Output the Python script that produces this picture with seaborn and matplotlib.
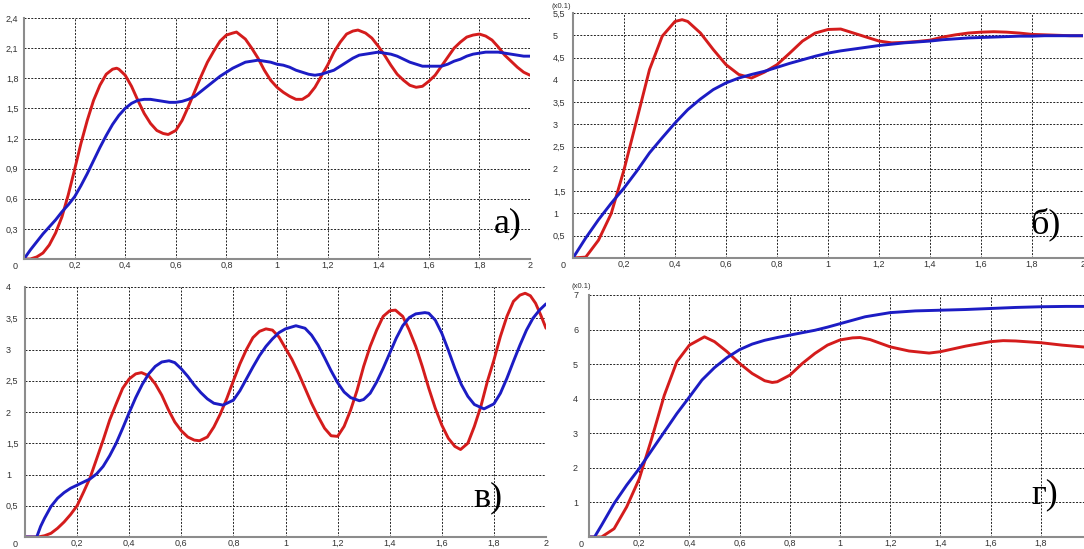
import matplotlib
matplotlib.use("Agg")
import matplotlib.pyplot as plt
import seaborn as sns
from matplotlib.ticker import FixedLocator, FuncFormatter

# ---- panel а) ----
a_red_x = [0, 0.025, 0.05, 0.075, 0.1, 0.125, 0.15, 0.175, 0.2, 0.225, 0.25, 0.275, 0.3, 0.325, 0.35,
           0.366, 0.375, 0.4, 0.425, 0.45, 0.475, 0.5, 0.525, 0.55, 0.57, 0.6, 0.625, 0.65, 0.675, 0.7,
           0.725, 0.75, 0.775, 0.8, 0.825, 0.84, 0.875, 0.9, 0.925, 0.95, 0.975, 1.0, 1.025, 1.05, 1.075,
           1.1, 1.125, 1.15, 1.175, 1.2, 1.225, 1.25, 1.275, 1.3, 1.32, 1.35, 1.375, 1.4, 1.425, 1.45,
           1.475, 1.5, 1.525, 1.55, 1.575, 1.6, 1.625, 1.65, 1.675, 1.7, 1.725, 1.75, 1.775, 1.8, 1.825,
           1.85, 1.875, 1.9, 1.925, 1.95, 1.975, 2.0]
a_red_y = [0, 0, 0.02, 0.06, 0.14, 0.26, 0.42, 0.64, 0.89, 1.15, 1.38, 1.58, 1.73, 1.84, 1.89,
           1.9, 1.89, 1.83, 1.72, 1.58, 1.45, 1.35, 1.28, 1.25, 1.24, 1.28, 1.38, 1.52, 1.67, 1.82,
           1.96, 2.07, 2.17, 2.23, 2.25, 2.26, 2.19, 2.1, 2.0, 1.88, 1.78, 1.71, 1.66, 1.62, 1.59,
           1.59, 1.63, 1.71, 1.82, 1.93, 2.06, 2.16, 2.24, 2.27, 2.28, 2.25, 2.2, 2.12, 2.03, 1.93,
           1.84, 1.78, 1.73, 1.71, 1.72, 1.77, 1.83, 1.92, 2.01, 2.1, 2.16, 2.21, 2.23, 2.24, 2.22,
           2.18, 2.11, 2.03, 1.97, 1.91, 1.86, 1.83]
a_blue_x = [0, 0.025, 0.05, 0.075, 0.1, 0.125, 0.15, 0.175, 0.2, 0.225, 0.25, 0.275, 0.3, 0.325, 0.35,
            0.375, 0.4, 0.425, 0.45, 0.475, 0.5, 0.525, 0.55, 0.575, 0.6, 0.625, 0.65, 0.675, 0.7, 0.725,
            0.75, 0.775, 0.8, 0.825, 0.85, 0.875, 0.9, 0.925, 0.95, 0.975, 1.0, 1.025, 1.05, 1.075, 1.1,
            1.125, 1.15, 1.175, 1.2, 1.225, 1.25, 1.275, 1.3, 1.325, 1.35, 1.375, 1.4, 1.425, 1.45, 1.475,
            1.5, 1.525, 1.55, 1.575, 1.6, 1.625, 1.65, 1.675, 1.7, 1.725, 1.75, 1.775, 1.8, 1.825, 1.85,
            1.875, 1.9, 1.925, 1.95, 1.975, 2.0]
a_blue_y = [0, 0.09, 0.17, 0.25, 0.32, 0.39, 0.47, 0.54, 0.62, 0.73, 0.85, 0.98, 1.11, 1.23, 1.34,
            1.43, 1.5, 1.55, 1.58, 1.59, 1.59, 1.58, 1.57, 1.56, 1.56, 1.57, 1.59, 1.62, 1.67, 1.72,
            1.77, 1.82, 1.86, 1.9, 1.93, 1.96, 1.97, 1.98, 1.97, 1.96, 1.94, 1.93, 1.91, 1.88, 1.86,
            1.84, 1.83, 1.84, 1.86, 1.88, 1.92, 1.96, 2.0, 2.03, 2.04, 2.05, 2.06, 2.05, 2.04, 2.02,
            1.99, 1.96, 1.94, 1.92, 1.92, 1.92, 1.92, 1.94, 1.97, 1.99, 2.02, 2.04, 2.05, 2.06, 2.06,
            2.06, 2.05, 2.04, 2.03, 2.02, 2.02]

# ---- panel б) ----
b_red_x = [0, 0.05, 0.1, 0.15, 0.2, 0.25, 0.3, 0.35, 0.4, 0.428, 0.45, 0.5, 0.55, 0.6, 0.65, 0.7, 0.75,
           0.8, 0.85, 0.9, 0.95, 1.0, 1.05, 1.1, 1.15, 1.2, 1.25, 1.3, 1.35, 1.4, 1.45, 1.5, 1.55, 1.6,
           1.65, 1.7, 1.75, 1.8, 1.85, 1.9, 1.95, 2.0]
b_red_y = [0, 0.02, 0.4, 1.0, 1.98, 3.1, 4.23, 4.98, 5.31, 5.35, 5.31, 5.05, 4.68, 4.34, 4.12, 4.04, 4.17,
           4.34, 4.6, 4.87, 5.05, 5.13, 5.14, 5.05, 4.96, 4.87, 4.83, 4.84, 4.86, 4.89, 4.96, 5.01, 5.05, 5.07,
           5.08, 5.07, 5.05, 5.02, 5.01, 5.0, 4.99, 4.99]
b_blue_x = [0, 0.05, 0.1, 0.15, 0.2, 0.25, 0.3, 0.35, 0.4, 0.45, 0.5, 0.55, 0.6, 0.65, 0.7, 0.75, 0.8,
            0.85, 0.9, 0.95, 1.0, 1.05, 1.1, 1.15, 1.2, 1.25, 1.3, 1.35, 1.4, 1.45, 1.5, 1.55, 1.6, 1.65,
            1.7, 1.75, 1.8, 1.85, 1.9, 1.95, 2.0]
b_blue_y = [0, 0.45, 0.86, 1.23, 1.57, 1.95, 2.36, 2.7, 3.03, 3.33, 3.57, 3.78, 3.93, 4.04, 4.12, 4.19, 4.28,
            4.37, 4.45, 4.53, 4.6, 4.65, 4.69, 4.73, 4.77, 4.8, 4.83, 4.85, 4.87, 4.9, 4.92, 4.94, 4.95, 4.96,
            4.97, 4.98, 4.98, 4.99, 4.99, 4.99, 4.99]

# ---- panel в) ----
c_red_x = [0, 0.025, 0.05, 0.075, 0.1, 0.125, 0.15, 0.175, 0.2, 0.225, 0.25, 0.275, 0.3, 0.325, 0.35,
           0.375, 0.4, 0.425, 0.447, 0.475, 0.5, 0.525, 0.55, 0.575, 0.6, 0.625, 0.65, 0.67, 0.7, 0.725,
           0.75, 0.775, 0.8, 0.825, 0.85, 0.875, 0.9, 0.925, 0.95, 0.975, 1.0, 1.025, 1.05, 1.075, 1.1,
           1.125, 1.15, 1.175, 1.2, 1.225, 1.25, 1.275, 1.3, 1.325, 1.35, 1.375, 1.4, 1.422, 1.45, 1.475,
           1.5, 1.525, 1.55, 1.575, 1.6, 1.625, 1.65, 1.672, 1.7, 1.725, 1.75, 1.775, 1.8, 1.825, 1.85,
           1.875, 1.9, 1.92, 1.94, 1.96, 1.98, 2.0]
c_red_y = [0, 0, 0, 0.02, 0.06, 0.14, 0.24, 0.36, 0.5, 0.72, 0.95, 1.25, 1.55, 1.87, 2.13,
           2.38, 2.53, 2.61, 2.63, 2.58, 2.45, 2.27, 2.04, 1.84, 1.7, 1.6, 1.55, 1.54, 1.6, 1.76,
           1.97, 2.22, 2.5, 2.77, 3.0, 3.19, 3.29, 3.33, 3.31, 3.2, 3.02, 2.84, 2.62, 2.38, 2.14,
           1.93, 1.74, 1.62, 1.61, 1.77, 2.03, 2.35, 2.73, 3.05, 3.31, 3.53, 3.62, 3.63, 3.53, 3.31,
           3.05, 2.73, 2.38, 2.06, 1.79, 1.58, 1.45, 1.4, 1.5, 1.77, 2.09, 2.49, 2.83, 3.21, 3.53,
           3.77, 3.87, 3.9, 3.86, 3.74, 3.55, 3.34]
c_blue_x = [0, 0.025, 0.045, 0.06, 0.075, 0.1, 0.125, 0.15, 0.175, 0.2, 0.225, 0.25, 0.275, 0.3, 0.325,
            0.35, 0.375, 0.4, 0.425, 0.45, 0.475, 0.5, 0.525, 0.553, 0.575, 0.6, 0.625, 0.65, 0.675, 0.7,
            0.725, 0.76, 0.8, 0.825, 0.85, 0.875, 0.9, 0.925, 0.95, 0.975, 1.0, 1.04, 1.075, 1.1, 1.125,
            1.15, 1.175, 1.2, 1.225, 1.25, 1.284, 1.3, 1.325, 1.35, 1.375, 1.4, 1.425, 1.45, 1.475, 1.5,
            1.535, 1.55, 1.575, 1.6, 1.625, 1.65, 1.675, 1.7, 1.725, 1.762, 1.8, 1.825, 1.85, 1.875, 1.9,
            1.925, 1.95, 1.975, 2.0]
c_blue_y = [0, 0, 0, 0.17, 0.3, 0.49, 0.62, 0.71, 0.78, 0.83, 0.88, 0.93, 1.01, 1.13, 1.3,
            1.5, 1.74, 1.99, 2.23, 2.44, 2.61, 2.73, 2.8, 2.82, 2.79, 2.69, 2.57, 2.43, 2.31, 2.21,
            2.14, 2.11, 2.19, 2.34, 2.53, 2.72, 2.9, 3.05, 3.17, 3.27, 3.33, 3.38, 3.34, 3.23, 3.07,
            2.87, 2.66, 2.47, 2.32, 2.23, 2.18, 2.2, 2.3, 2.48, 2.7, 2.94, 3.18, 3.38, 3.51, 3.57,
            3.59, 3.58, 3.47, 3.26, 2.99, 2.7, 2.44, 2.25, 2.12, 2.05, 2.13, 2.3, 2.54, 2.81, 3.07,
            3.31, 3.5, 3.63, 3.73]

# ---- panel г) ----
d_red_x = [0, 0.05, 0.1, 0.15, 0.2, 0.25, 0.3, 0.35, 0.4, 0.46, 0.5, 0.55, 0.6, 0.65, 0.7, 0.73, 0.75,
           0.8, 0.85, 0.9, 0.95, 1.0, 1.05, 1.08, 1.12, 1.2, 1.275, 1.355, 1.4, 1.5, 1.6, 1.65, 1.7, 1.8,
           1.885, 1.965, 2.0]
d_red_y = [0, 0, 0.24, 0.87, 1.68, 2.85, 4.1, 5.07, 5.55, 5.79, 5.65, 5.36, 5.02, 4.73, 4.52, 4.47, 4.49,
           4.68, 5.02, 5.31, 5.55, 5.7, 5.76, 5.77, 5.71, 5.5, 5.38, 5.32, 5.36, 5.52, 5.65, 5.68, 5.67, 5.62,
           5.55, 5.5, 5.48]
d_blue_x = [0, 0.022, 0.05, 0.1, 0.15, 0.2, 0.25, 0.3, 0.35, 0.4, 0.45, 0.5, 0.55, 0.6, 0.65, 0.7, 0.75,
            0.8, 0.85, 0.9, 0.95, 1.0, 1.05, 1.1, 1.2, 1.3, 1.4, 1.5, 1.6, 1.7, 1.8, 1.9, 2.0]
d_blue_y = [0, 0, 0.34, 0.97, 1.5, 1.98, 2.51, 3.04, 3.57, 4.05, 4.54, 4.9, 5.19, 5.42, 5.58, 5.69, 5.77,
            5.84, 5.91, 5.98, 6.07, 6.17, 6.27, 6.37, 6.49, 6.54, 6.56, 6.58, 6.61, 6.64, 6.66, 6.67, 6.67]

x_ticks = [0.2, 0.4, 0.6, 0.8, 1.0, 1.2, 1.4, 1.6, 1.8, 2.0]
a_yticks = [0.3, 0.6, 0.9, 1.2, 1.5, 1.8, 2.1, 2.4]
b_yticks = [0.5, 1, 1.5, 2, 2.5, 3, 3.5, 4, 4.5, 5, 5.5]
c_yticks = [0.5, 1, 1.5, 2, 2.5, 3, 3.5, 4]
d_yticks = [1, 2, 3, 4, 5, 6, 7]

RED = "#d41c1c"
BLUE = "#1c1cc4"

sns.set_style("white")
plt.rcParams["font.family"] = ["Liberation Sans", "DejaVu Sans"]

fig = plt.figure(figsize=(10.84, 5.49), dpi=100)
fig.patch.set_facecolor("white")


def comma(v, pos):
    return f"{v:g}".replace(".", ",")


def draw_panel(rect, ymax, yticks, red, blue, letter, letter_pos, ypad, zero_dx, xticks=x_ticks):
    ax = fig.add_axes(rect)
    line_kw = dict(linewidth=2.1, solid_joinstyle="round", solid_capstyle="round")
    sns.lineplot(x=red[0], y=red[1], ax=ax, color=RED, **line_kw)
    sns.lineplot(x=blue[0], y=blue[1], ax=ax, color=BLUE, **line_kw)
    ax.set_xlim(0, 2)
    ax.set_ylim(0, ymax)
    ax.set_xlabel("")
    ax.set_ylabel("")
    ax.xaxis.set_major_locator(FixedLocator(xticks))
    ax.yaxis.set_major_locator(FixedLocator(yticks))
    ax.xaxis.set_major_formatter(FuncFormatter(comma))
    ax.yaxis.set_major_formatter(FuncFormatter(comma))
    ax.tick_params(axis="both", length=0, labelsize=6.5, labelcolor="#333333")
    ax.tick_params(axis="x", pad=1.5)
    ax.tick_params(axis="y", pad=ypad)
    plt.setp(ax.get_yticklabels(), ha="left")
    ax.grid(True, color="#222222", linestyle=(0, (2, 1.5)), linewidth=0.7)
    ax.set_axisbelow(True)
    for side in ("top", "right"):
        ax.spines[side].set_visible(False)
    for side in ("left", "bottom"):
        ax.spines[side].set_color("#8c8c8c")
        ax.spines[side].set_linewidth(1.5)
    # the shared "0" at the origin
    ax.annotate("0", xy=(0, 0), xycoords="axes fraction", xytext=(zero_dx, -3),
                textcoords="offset pixels", ha="center", va="top", fontsize=6.5, color="#333333")
    ax.text(letter_pos[0], letter_pos[1], letter, transform=ax.transAxes, ha="left", va="baseline",
            fontsize=26, family="Liberation Serif", color="black")
    return ax


ax_a = draw_panel([24 / 1084, 290 / 549, 506 / 1084, 241 / 549], 2.4, a_yticks,
                  (a_red_x, a_red_y), (a_blue_x, a_blue_y), "а)", (0.929, 0.112), 13, -9)
ax_b = draw_panel([573 / 1084, 291 / 549, 510 / 1084, 245 / 549], 5.5, b_yticks,
                  (b_red_x, b_red_y), (b_blue_x, b_blue_y), "б)", (0.896, 0.102), 14.4, -10)
ax_c = draw_panel([25 / 1084, 12 / 549, 521 / 1084, 250 / 549], 4, c_yticks,
                  (c_red_x, c_red_y), (c_blue_x, c_blue_y), "в)", (0.86, 0.124), 13.7, -10)
# panel г) runs past the right edge of the picture, so its last tick is not shown
ax_d = draw_panel([589 / 1084, 12 / 549, 502 / 1084, 242 / 549], 7, d_yticks,
                  (d_red_x, d_red_y), (d_blue_x, d_blue_y), "г)", (0.882, 0.14), 11.5, -8,
                  xticks=x_ticks[:-1])

# scale notes above the y axes of б) and г)
for ax, off in ((ax_b, (-21, 7)), (ax_d, (-18, 9))):
    ax.annotate("(x0.1)", xy=(0, 1), xycoords="axes fraction", xytext=off,
                textcoords="offset pixels", ha="left", va="center", fontsize=5.5, color="#333333")

fig.savefig("out.png", dpi=100)
